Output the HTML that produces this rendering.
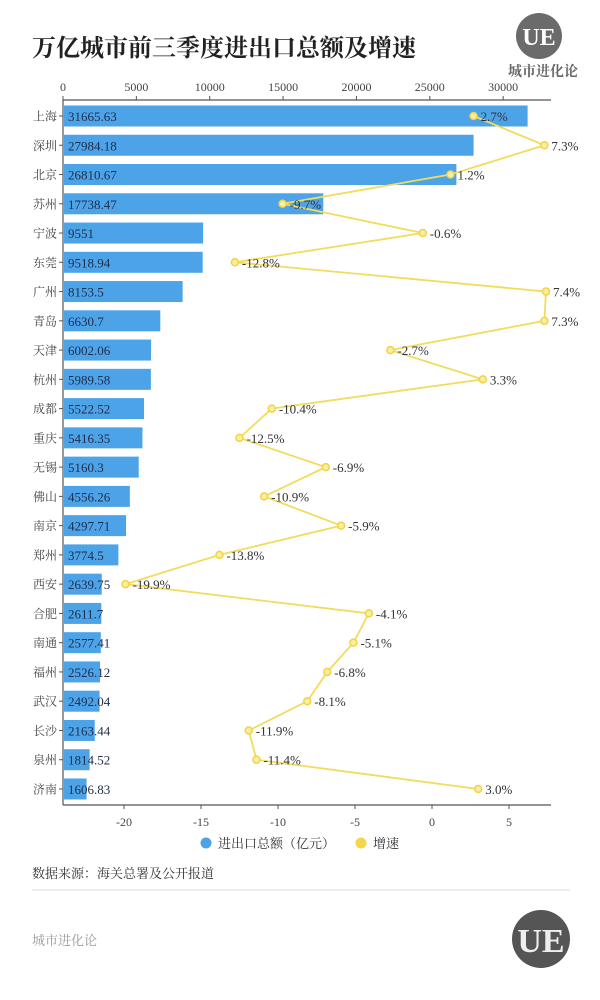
<!DOCTYPE html>
<html><head><meta charset="utf-8">
<style>
body{margin:0;background:#fff;}
#wrap{position:relative;width:600px;height:1000px;overflow:hidden;background:#fff;font-family:"Liberation Serif","Noto Serif CJK SC",serif;}
svg text{font-family:"Liberation Serif","Noto Serif CJK SC",serif;}
</style></head>
<body>
<div id="wrap">
<svg id="chart" width="600" height="1000">
  <text x="32" y="56" font-size="24" font-weight="bold" fill="#222">万亿城市前三季度进出口总额及增速</text>
  <g>
    <circle cx="539" cy="36" r="23" fill="#6b6b6b"/>
    <text x="539" y="45" font-size="24" font-weight="bold" fill="#fff" text-anchor="middle" font-family="Liberation Sans">UE</text>
    <text x="543" y="76" font-size="14" font-weight="bold" fill="#666" text-anchor="middle">城市进化论</text>
  </g>
  <g id="axes"></g>
  <g id="bars"></g>
  <g id="line"></g>
  <g>
    <circle cx="206" cy="843" r="5.5" fill="#4da3e8"/>
    <text x="218" y="848" font-size="13" fill="#333">进出口总额（亿元）</text>
    <circle cx="361" cy="843" r="5.5" fill="#f5d54a"/>
    <text x="373" y="848" font-size="13" fill="#333">增速</text>
  </g>
  <text x="32" y="878" font-size="13" fill="#333">数据来源：海关总署及公开报道</text>
  <line x1="32" y1="890" x2="570" y2="890" stroke="#ddd" stroke-width="1"/>
  <text x="32" y="945" font-size="13" fill="#999">城市进化论</text>
  <g>
    <circle cx="541" cy="939" r="29" fill="#555"/>
    <text x="541" y="952" font-size="34" font-weight="bold" fill="#eee" text-anchor="middle" font-family="Liberation Sans">UE</text>
  </g>
</svg>
</div>
<script>
const cities=["上海","深圳","北京","苏州","宁波","东莞","广州","青岛","天津","杭州","成都","重庆","无锡","佛山","南京","郑州","西安","合肥","南通","福州","武汉","长沙","泉州","济南"];
const totals=[31665.63,27984.18,26810.67,17738.47,9551,9518.94,8153.5,6630.7,6002.06,5989.58,5522.52,5416.35,5160.3,4556.26,4297.71,3774.5,2639.75,2611.7,2577.41,2526.12,2492.04,2163.44,1814.52,1606.83];
const growth=[2.7,7.3,1.2,-9.7,-0.6,-12.8,7.4,7.3,-2.7,3.3,-10.4,-12.5,-6.9,-10.9,-5.9,-13.8,-19.9,-4.1,-5.1,-6.8,-8.1,-11.9,-11.4,3.0];
const topTicks=[0,5000,10000,15000,20000,25000,30000];
const bottomTicks=[-20,-15,-10,-5,0,5];

const NS="http://www.w3.org/2000/svg";
const X0=63,X1=551;
const xTop=v=>X0+v*(X1-X0)/33260;
const xBot=v=>432+v*15.4;
const yRow=i=>116+i*29.26;
function mk(tag,attrs,parent,txt){const e=document.createElementNS(NS,tag);for(const k in attrs)e.setAttribute(k,attrs[k]);if(txt!==undefined)e.textContent=txt;parent.appendChild(e);return e;}
const axes=document.getElementById('axes'),bars=document.getElementById('bars'),line=document.getElementById('line');

let a=mk('line',{x1:X0,y1:100,x2:X1,y2:100,stroke:'#555','stroke-width':1.2},axes);


a=mk('line',{x1:X0,y1:805,x2:X1,y2:805,stroke:'#555','stroke-width':1.2},axes);


a=mk('line',{x1:X0,y1:100,x2:X0,y2:805,stroke:'#555','stroke-width':1.2},axes);


topTicks.forEach(t=>{
  const x=xTop(t);
  mk('line',{x1:x,y1:96,x2:x,y2:100,stroke:'#555'},axes);
  const tx=mk('text',{x:x,y:91,'font-size':12,fill:'#444','text-anchor':'middle'},axes,String(t));
  
  
});
bottomTicks.forEach(t=>{
  const x=xBot(t);
  mk('line',{x1:x,y1:805,x2:x,y2:809,stroke:'#555'},axes);
  const tx=mk('text',{x:x,y:826,'font-size':12,fill:'#444','text-anchor':'middle'},axes,String(t));
  
  
});
cities.forEach((c,i)=>{
  const y=yRow(i);
  const r=mk('rect',{x:X0+1,y:y-10.5,width:xTop(totals[i])-X0-1,height:21,fill:'#4da3e8'},bars);
  
  
  mk('line',{x1:X0-4,y1:y,x2:X0,y2:y,stroke:'#555'},axes);
  const l=mk('text',{x:X0-6,y:y+4.5,'font-size':12,fill:'#444','text-anchor':'end'},axes,c);
  
  
  const v=mk('text',{x:X0+5,y:y+5,'font-size':13,fill:'#1e2d4a'},bars,String(totals[i]));
  
  
});
const pts=growth.map((g,i)=>xBot(g)+','+yRow(i)).join(' ');
const pl=mk('polyline',{points:pts,fill:'none',stroke:'#f2dc5d','stroke-width':1.8},line);


growth.forEach((g,i)=>{
  const x=xBot(g),y=yRow(i);
  const p=mk('circle',{cx:x,cy:y,r:3.5,fill:'#fbeea0',stroke:'#f0d444','stroke-width':1.5},line);
  
  
  const t=mk('text',{x:x+7,y:y+5,'font-size':13,fill:'#333'},line,g.toFixed(1)+'%');
  
  
});
</script>
</body></html>
